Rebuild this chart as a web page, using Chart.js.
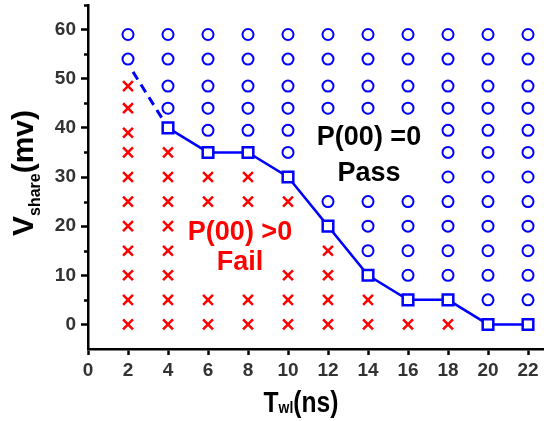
<!DOCTYPE html>
<html>
<head>
<meta charset="utf-8">
<script src="https://cdn.jsdelivr.net/npm/chart.js@4.4.0/dist/chart.umd.min.js"></script>
<style>
  html, body { margin: 0; padding: 0; background: #fff; }
  #wrap { width: 544px; height: 421px; }
</style>
</head>
<body>
<div id="wrap"><canvas id="chart-vshare"></canvas></div>
<script>
var twl = [2, 4, 6, 8, 10, 12, 14, 16, 18, 20, 22];

// P(00)=0 points (circles), one list per Twl column
var passV = [
  [59, 54],
  [59, 54, 48.5, 44],
  [59, 54, 48.5, 44, 39.5],
  [59, 54, 48.5, 44, 39.5],
  [59, 54, 48.5, 44, 39.5, 35],
  [59, 54, 48.5, 44, 25],
  [59, 54, 48.5, 44, 25, 20, 15],
  [59, 54, 48.5, 44, 25, 20, 15, 10],
  [59, 54, 48.5, 44, 39.5, 35, 30, 25, 20, 15, 10],
  [59, 54, 48.5, 44, 39.5, 35, 30, 25, 20, 15, 10, 5],
  [59, 54, 48.5, 44, 39.5, 35, 30, 25, 20, 15, 10, 5]
];

// P(00)>0 points (crosses)
var failV = [
  [48.5, 44, 39, 35, 30, 25, 20, 15, 10, 5, 0],
  [35, 30, 25, 20, 15, 10, 5, 0],
  [30, 25, 5, 0],
  [30, 25, 5, 0],
  [25, 10, 5, 0],
  [15, 10, 5, 0],
  [5, 0],
  [0],
  [0],
  [],
  []
];

// boundary (squares) and dashed extrapolation
var boundaryT = [4, 6, 8, 10, 12, 14, 16, 18, 20, 22];
var boundaryV = [40, 35, 35, 30, 20, 10, 5, 5, 0, 0];
var extrapT = [2.25, 4];
var extrapV = [51.4, 40];

var xTicks = [0, 2, 4, 6, 8, 10, 12, 14, 16, 18, 20, 22];
var yTicks = [0, 10, 20, 30, 40, 50, 60];
var yMinor = [5, 15, 25, 35, 45, 55, 65];

var notes = [
  { text: "P(00) =0", x: 14.05, y: 38.0, color: "#000000" },
  { text: "Pass", x: 14.05, y: 30.7, color: "#000000" },
  { text: "P(00) >0", x: 7.6, y: 18.7, color: "#ff0000" },
  { text: "Fail", x: 7.6, y: 12.5, color: "#ff0000" }
];

function columnPoints(cols) {
  var pts = [];
  cols.forEach(function (list, i) {
    list.forEach(function (v) {
      pts.push({ x: twl[i], y: v });
    });
  });
  return pts;
}

function pairPoints(xs, ys) {
  return xs.map(function (x, i) {
    return { x: x, y: ys[i] };
  });
}

var FONT = '"Liberation Sans", Arial, sans-serif';

var extrasPlugin = {
  id: "extras",
  afterDraw: function (chart) {
    var ctx = chart.ctx;
    var xs = chart.scales.x;
    var ys = chart.scales.y;
    var area = chart.chartArea;

    // minor ticks on y axis
    ctx.save();
    ctx.strokeStyle = "#000";
    ctx.lineWidth = 2.5;
    yMinor.forEach(function (v) {
      var py = Math.round(ys.getPixelForValue(v)) + 0.5;
      ctx.beginPath();
      ctx.moveTo(area.left - 4, py);
      ctx.lineTo(area.left, py);
      ctx.stroke();
    });
    ctx.restore();

    // in-plot labels
    ctx.save();
    ctx.font = "bold 27px " + FONT;
    ctx.textAlign = "center";
    ctx.textBaseline = "middle";
    notes.forEach(function (n) {
      ctx.fillStyle = n.color;
      ctx.fillText(n.text, xs.getPixelForValue(n.x), ys.getPixelForValue(n.y));
    });
    ctx.restore();

    // y title: V_share(mv)
    ctx.save();
    ctx.fillStyle = "#000";
    ctx.textAlign = "left";
    ctx.textBaseline = "alphabetic";
    ctx.translate(33, (area.top + area.bottom) / 2 - 4);
    ctx.rotate(-Math.PI / 2);
    ctx.font = "bold 30px " + FONT;
    var wV = ctx.measureText("V").width;
    var wM = ctx.measureText("(mv)").width;
    ctx.font = "bold 16px " + FONT;
    var wS = ctx.measureText("share").width;
    var sx = -(wV + wS + wM) / 2;
    ctx.font = "bold 30px " + FONT;
    ctx.fillText("V", sx, 0);
    ctx.font = "bold 16px " + FONT;
    ctx.fillText("share", sx + wV, 7);
    ctx.font = "bold 30px " + FONT;
    ctx.fillText("(mv)", sx + wV + wS, 0);
    ctx.restore();

    // x title: T_wl(ns)
    ctx.save();
    ctx.fillStyle = "#000";
    ctx.textAlign = "left";
    ctx.textBaseline = "alphabetic";
    ctx.translate(301, 412);
    ctx.scale(0.82, 1);
    ctx.font = "bold 30px " + FONT;
    var wT = ctx.measureText("T").width;
    var wN = ctx.measureText("(ns)").width;
    ctx.font = "bold 17px " + FONT;
    var wW = ctx.measureText("wl").width;
    var tx = -(wT + wW + wN) / 2;
    ctx.font = "bold 30px " + FONT;
    ctx.fillText("T", tx, 0);
    ctx.font = "bold 17px " + FONT;
    ctx.fillText("wl", tx + wT, 1);
    ctx.font = "bold 30px " + FONT;
    ctx.fillText("(ns)", tx + wT + wW, 0);
    ctx.restore();
  }
};

var ctx = document.getElementById("chart-vshare").getContext("2d");

new Chart(ctx, {
  type: "scatter",
  data: {
    datasets: [
      {
        label: "Boundary",
        data: pairPoints(boundaryT, boundaryV),
        showLine: true,
        borderColor: "#0000ff",
        borderWidth: 2.5,
        pointStyle: "rect",
        pointRadius: 7.5,
        pointBorderWidth: 2.5,
        pointBackgroundColor: "#ffffff",
        pointBorderColor: "#0000ff",
      },
      {
        label: "Extrapolation",
        data: pairPoints(extrapT, extrapV),
        showLine: true,
        borderColor: "#0000ff",
        borderWidth: 3,
        borderDash: [9, 6],
        pointRadius: 0,
      },
      {
        label: "P(00)=0",
        data: columnPoints(passV),
        pointStyle: "circle",
        pointRadius: 5.5,
        pointBorderWidth: 2,
        pointBorderColor: "#0000ff",
        pointBackgroundColor: "rgba(255,255,255,0)",
      },
      {
        label: "P(00)>0",
        data: columnPoints(failV),
        pointStyle: "crossRot",
        pointRadius: 7,
        pointBorderWidth: 2.5,
        pointBorderColor: "#ff0000",
      },
    ],
  },
  options: {
    responsive: true,
    maintainAspectRatio: false,
    animation: false,
    layout: {
      autoPadding: false,
      padding: { top: 5, right: 0, bottom: 0, left: 0 },
    },
    plugins: {
      legend: { display: false },
      tooltip: { enabled: false },
    },
    scales: {
      x: {
        type: "linear",
        min: 0,
        max: 22.8,
        afterBuildTicks: function (s) {
          s.ticks = xTicks.map(function (v) { return { value: v }; });
        },
        afterFit: function (s) {
          s.height = 72;
          s.paddingLeft = 0;
          s.paddingRight = 0;
        },
        border: { display: true, color: "#000", width: 2.5 },
        grid: {
          display: true,
          drawOnChartArea: false,
          drawTicks: true,
          tickLength: 6,
          tickWidth: 2.5,
          tickColor: "#000",
        },
        ticks: {
          autoSkip: false,
          maxRotation: 0,
          padding: 4,
          color: "#333",
          font: { family: FONT, size: 19, weight: "bold" },
        },
      },
      y: {
        type: "linear",
        min: -5,
        max: 65,
        afterBuildTicks: function (s) {
          s.ticks = yTicks.map(function (v) { return { value: v }; });
        },
        afterFit: function (s) {
          s.width = 88;
          s.paddingTop = 0;
          s.paddingBottom = 0;
        },
        border: { display: true, color: "#000", width: 2.5 },
        grid: {
          display: true,
          drawOnChartArea: false,
          drawTicks: true,
          tickLength: 7,
          tickWidth: 2.5,
          tickColor: "#000",
        },
        ticks: {
          padding: 5,
          color: "#333",
          font: { family: FONT, size: 19, weight: "bold" },
        },
      },
    },
  },
  plugins: [extrasPlugin],
});
</script>
</body>
</html>
